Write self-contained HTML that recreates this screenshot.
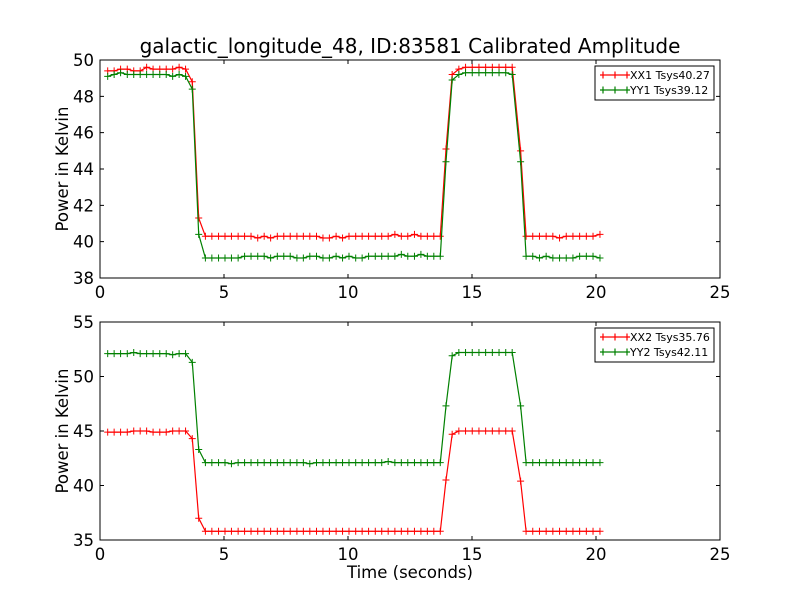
<!DOCTYPE html>
<html><head><meta charset="utf-8"><style>
body{margin:0;background:#fff;}
svg{display:block;font-family:"DejaVu Sans","Liberation Sans",sans-serif;}
</style></head><body>
<svg id="chart" width="800" height="600" xmlns="http://www.w3.org/2000/svg">
<rect width="800" height="600" fill="#fff"/>
</svg>
<script>
const times = [0.31,0.57,0.83,1.10,1.36,1.62,1.88,2.14,2.41,2.67,2.93,3.19,3.45,3.72,3.98,
4.25,4.51,4.78,5.04,5.30,5.57,5.83,6.09,6.36,6.62,6.88,7.15,7.41,7.67,7.94,8.20,8.46,8.73,8.99,9.25,9.52,9.78,10.04,10.31,10.57,10.83,11.10,11.36,11.62,11.89,12.15,12.41,12.68,12.94,13.20,13.46,13.72,
13.95,14.20,14.47,14.74,15.01,15.28,15.55,15.82,16.09,16.36,16.62,16.96,
17.18,17.45,17.72,17.99,18.26,18.53,18.80,19.07,19.34,19.61,19.88,20.16];
const xx1 = [49.4,49.4,49.5,49.5,49.4,49.4,49.6,49.5,49.5,49.5,49.5,49.6,49.5,48.8,41.3,
40.3,40.3,40.3,40.3,40.3,40.3,40.3,40.3,40.2,40.3,40.2,40.3,40.3,40.3,40.3,40.3,40.3,40.3,40.2,40.2,40.3,40.2,40.3,40.3,40.3,40.3,40.3,40.3,40.3,40.4,40.3,40.3,40.4,40.3,40.3,40.3,40.3,
45.1,49.2,49.5,49.6,49.6,49.6,49.6,49.6,49.6,49.6,49.6,45.0,
40.3,40.3,40.3,40.3,40.3,40.2,40.3,40.3,40.3,40.3,40.3,40.4];
const yy1 = [49.1,49.2,49.3,49.2,49.2,49.2,49.2,49.2,49.2,49.2,49.1,49.2,49.1,48.4,40.4,
39.1,39.1,39.1,39.1,39.1,39.1,39.2,39.2,39.2,39.2,39.1,39.2,39.2,39.2,39.1,39.1,39.2,39.2,39.1,39.1,39.2,39.1,39.2,39.1,39.1,39.2,39.2,39.2,39.2,39.2,39.3,39.2,39.2,39.3,39.2,39.2,39.2,
44.4,48.9,49.2,49.3,49.3,49.3,49.3,49.3,49.3,49.3,49.2,44.4,
39.2,39.2,39.1,39.2,39.1,39.1,39.1,39.1,39.2,39.2,39.2,39.1];
const xx2 = [44.9,44.9,44.9,44.9,45.0,45.0,45.0,44.9,44.9,44.9,45.0,45.0,45.0,44.3,37.0,
35.8,35.8,35.8,35.8,35.8,35.8,35.8,35.8,35.8,35.8,35.8,35.8,35.8,35.8,35.8,35.8,35.8,35.8,35.8,35.8,35.8,35.8,35.8,35.8,35.8,35.8,35.8,35.8,35.8,35.8,35.8,35.8,35.8,35.8,35.8,35.8,35.8,
40.5,44.7,45.0,45.0,45.0,45.0,45.0,45.0,45.0,45.0,45.0,40.4,
35.8,35.8,35.8,35.8,35.8,35.8,35.8,35.8,35.8,35.8,35.8,35.8];
const yy2 = [52.1,52.1,52.1,52.1,52.2,52.1,52.1,52.1,52.1,52.1,52.0,52.1,52.1,51.3,43.3,
42.1,42.1,42.1,42.1,42.0,42.1,42.1,42.1,42.1,42.1,42.1,42.1,42.1,42.1,42.1,42.1,42.0,42.1,42.1,42.1,42.1,42.1,42.1,42.1,42.1,42.1,42.1,42.1,42.2,42.1,42.1,42.1,42.1,42.1,42.1,42.1,42.1,
47.3,51.9,52.2,52.2,52.2,52.2,52.2,52.2,52.2,52.2,52.2,47.3,
42.1,42.1,42.1,42.1,42.1,42.1,42.1,42.1,42.1,42.1,42.1,42.1];
const xTicks = [0,5,10,15,20,25];
const yTicks1 = [38,40,42,44,46,48,50];
const yTicks2 = [35,40,45,50,55];
const legend1 = ["XX1 Tsys40.27","YY1 Tsys39.12"];
const legend2 = ["XX2 Tsys35.76","YY2 Tsys42.11"];

const NS="http://www.w3.org/2000/svg";
const svg=document.getElementById('chart');
function mk(tag,attrs,parent){const e=document.createElementNS(NS,tag);for(const k in attrs)e.setAttribute(k,attrs[k]);(parent||svg).appendChild(e);return e;}

function panel(top,bottom,ymin,ymax,yTicks,sA,sB,leg,name){
  const L=100,R=720;
  const g=mk('g',{});
  
  
  const sx=v=>L+(v-0)/(25-0)*(R-L);
  const sy=v=>bottom-(v-ymin)/(ymax-ymin)*(bottom-top);
  const series=[[sA,'#ff0000',leg[0]],[sB,'#008000',leg[1]]];
  series.forEach((s,si)=>{
    const sg=mk('g',{},g);
    
    
    const pts=times.map((t,i)=>sx(t).toFixed(1)+','+sy(s[0][i]).toFixed(1)).join(' ');
    const pl=mk('polyline',{points:pts,fill:'none',stroke:s[1],'stroke-width':1.2},sg);
    
    
    times.forEach((t,i)=>{
      const x=sx(t),y=sy(s[0][i]);
      const m=mk('path',{d:`M${x-3.5},${y}H${x+3.5}M${x},${y-3.5}V${y+3.5}`,stroke:s[1],'stroke-width':1},sg);
      
      
    });
  });
  xTicks.forEach(v=>{
    const x=sx(v);
    mk('path',{d:`M${x},${bottom}v-4M${x},${top}v4`,stroke:'#000','stroke-width':1},g);
    const t=mk('text',{x:x,y:bottom+20,'font-size':16.5,'text-anchor':'middle'},g);
    
    
    t.textContent=v;
  });
  yTicks.forEach(v=>{
    const y=sy(v);
    mk('path',{d:`M${L},${y}h4M${R},${y}h-4`,stroke:'#000','stroke-width':1},g);
    const t=mk('text',{x:L-6,y:y+6,'font-size':16.5,'text-anchor':'end'},g);
    
    
    t.textContent=v;
  });
  const fr=mk('rect',{x:L,y:top,width:R-L,height:bottom-top,fill:'none',stroke:'#000','stroke-width':1},g);
  
  
  const yl=mk('text',{x:0,y:0,'font-size':16.5,'text-anchor':'middle',transform:`translate(68,${(top+bottom)/2}) rotate(-90)`},g);
  
  
  yl.textContent='Power in Kelvin';
  const lg=mk('g',{},g);
  
  
  mk('rect',{x:595,y:top+6,width:119,height:34,fill:'#fff',stroke:'#000','stroke-width':1},lg);
  leg.forEach((txt,i)=>{
    const y=top+15+i*15;
    const c=i?'#008000':'#ff0000';
    mk('path',{d:`M600,${y}h30M615,${y-3.5}v7M603,${y-3.5}v7M627,${y-3.5}v7`,stroke:c,'stroke-width':1.2},lg);
    const t=mk('text',{x:630,y:y+4,'font-size':11},lg);
    
    
    t.textContent=txt;
  });
}
const title=mk('text',{x:410,y:53,'font-size':20,'text-anchor':'middle'});


title.textContent='galactic_longitude_48, ID:83581 Calibrated Amplitude';
panel(60,278,38,50,yTicks1,xx1,yy1,legend1,'top-panel');
panel(322,540,35,55,yTicks2,xx2,yy2,legend2,'bottom-panel');
const xl=mk('text',{x:410,y:578,'font-size':16.5,'text-anchor':'middle'});


xl.textContent='Time (seconds)';
</script>
</body></html>
